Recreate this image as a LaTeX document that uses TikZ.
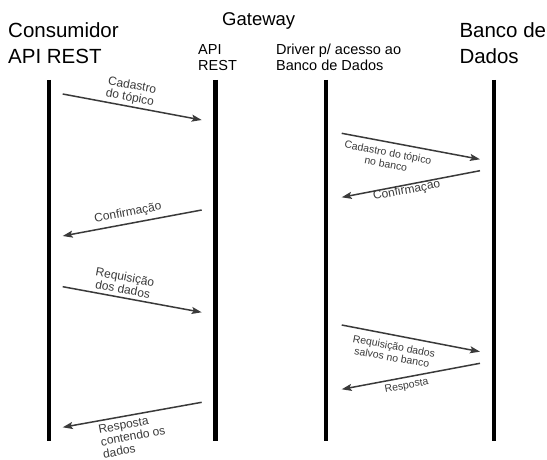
\documentclass[tikz,border=0pt]{standalone}
\usepackage{fontspec}
\setmainfont{Liberation Sans}
\usetikzlibrary{arrows.meta}
\definecolor{msgcol}{HTML}{3A3A3A}
\begin{document}
\begin{tikzpicture}[x=1pt,y=-1pt,
  lifeline/.style={line width=4.5pt, black},
  msg/.style={line width=1.5pt, msgcol, -{Stealth[length=10pt,width=7pt,inset=2pt]}},
  big/.style={inner sep=0pt, anchor=base west, font=\fontsize{20.5}{24}\selectfont},
  small/.style={inner sep=0pt, anchor=base west, font=\fontsize{14.5}{16}\selectfont},
  lbl/.style={inner sep=0pt, text=msgcol, align=center, font=\fontsize{12}{12.5}\selectfont},
  lbls/.style={lbl, font=\fontsize{10.5}{11.5}\selectfont}]
\useasboundingbox (0,0) rectangle (547,460);

% headers
\node[big] (cons1) at (8,37.3) {Consumidor};
\node[big] (cons2) at (8,63.3) {API REST};
\node[big, font=\fontsize{18.5}{22}\selectfont] (gw) at (222,26) {Gateway};
\node[small] (api1) at (198,55) {API};
\node[small] (api2) at (198,71) {REST};
\node[small] (drv1) at (276,55) {Driver p/ acesso ao};
\node[small] (drv2) at (276,71) {Banco de Dados};
\node[big] (bd1) at (459.3,37.3) {Banco de};
\node[big] (bd2) at (459.3,63.3) {Dados};

% lifelines
\coordinate (l1t) at (49,80);    \coordinate (l1b) at (49,441);
\coordinate (l2t) at (215.5,80); \coordinate (l2b) at (215.5,441);
\coordinate (l3t) at (326,80);   \coordinate (l3b) at (326,441);
\coordinate (l4t) at (494,80);   \coordinate (l4b) at (494,441);
\draw[lifeline] (l1t) -- (l1b);
\draw[lifeline] (l2t) -- (l2b);
\draw[lifeline] (l3t) -- (l3b);
\draw[lifeline] (l4t) -- (l4b);

% message end points
\coordinate (m1a) at (62.7,94);    \coordinate (m1b) at (201.7,120);
\coordinate (m2a) at (201.7,210);  \coordinate (m2b) at (62.7,236);
\coordinate (m3a) at (341.7,133.3);\coordinate (m3b) at (480,159.3);
\coordinate (m4a) at (480,170.7);  \coordinate (m4b) at (341.7,197.3);
\coordinate (m5a) at (62.7,286.7); \coordinate (m5b) at (201.7,312.3);
\coordinate (m6a) at (341.7,325);  \coordinate (m6b) at (480,351.7);
\coordinate (m7a) at (480,363.3);  \coordinate (m7b) at (341.7,389.3);
\coordinate (m8a) at (201.7,402.3);\coordinate (m8b) at (62.7,427.3);

\draw[msg] (m1a) -- (m1b);
\draw[msg] (m2a) -- (m2b);
\draw[msg] (m3a) -- (m3b);
\draw[msg] (m4a) -- (m4b);
\draw[msg] (m5a) -- (m5b);
\draw[msg] (m6a) -- (m6b);
\draw[msg] (m7a) -- (m7b);
\draw[msg] (m8a) -- (m8b);

% labels
\node[lbl, rotate=-10.6] (t1) at (131,92) {Cadastro\\do tópico};
\node[lbl, rotate=10.6] (t2) at (128,213) {Confirmação};
\node[lbls, rotate=-10.6] (t3) at (387,158) {Cadastro do tópico\\no banco};
\node[lbl, rotate=10.6] (t4) at (406.7,190.7) {Confirmação};
\node[lbl, rotate=-10.6] (t5) at (124,283) {Requisição\\dos dados};
\node[lbls, rotate=-10.6] (t6) at (393,351.7) {Requisição dados\\salvos no banco};
\node[lbls, rotate=10.6] (t7) at (406.7,386) {Resposta};
\node[lbl, rotate=10.6, align=left] (t8) at (133,436) {Resposta\\contendo os\\dados};
\end{tikzpicture}
\end{document}
